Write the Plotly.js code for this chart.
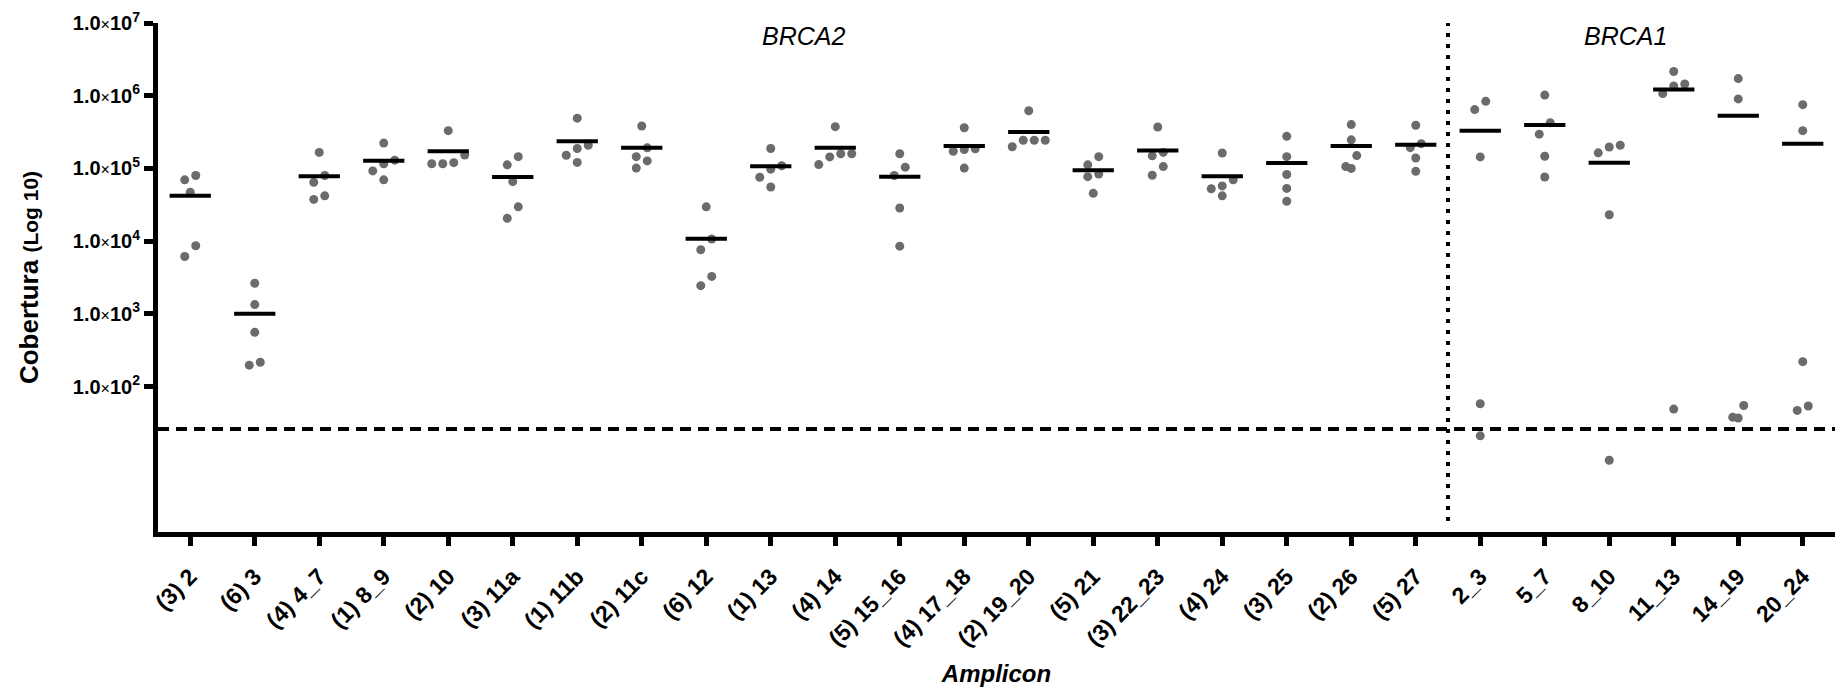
<!DOCTYPE html>
<html>
<head>
<meta charset="utf-8">
<script src="https://cdn.plot.ly/plotly-3.0.1.min.js"></script>
<style>html,body{margin:0;padding:0;background:#fff;}#chart{width:1847px;height:690px;}</style>
</head>
<body>
<div id="chart"></div>
<script>
// ---------- data ----------
const categories = ["(3) 2","(6) 3","(4) 4_7","(1) 8_9","(2) 10","(3) 11a","(1) 11b","(2) 11c","(6) 12","(1) 13",
  "(4) 14","(5) 15_16","(4) 17_18","(2) 19_20","(5) 21","(3) 22_23","(4) 24","(3) 25","(2) 26","(5) 27",
  "2_3","5_7","8_10","11_13","14_19","20_24"];

const coverage = [
  [69700, 79800, 47000, 8630, 6150],
  [2640, 1340, 557, 197, 216],
  [166000, 79800, 64400, 37500, 42000],
  [223000, 130000, 116000, 92500, 69700],
  [331000, 120000, 116000, 116000, 153000],
  [145000, 112000, 65900, 29600, 20600],
  [491000, 208000, 188000, 152000, 121000],
  [383000, 192000, 145000, 127000, 101000],
  [29600, 10700, 7620, 3270, 2440],
  [188000, 109000, 97700, 75500, 55600],
  [375000, 159000, 159000, 144000, 113000],
  [159000, 104000, 79800, 28600, 8530],
  [362000, 182000, 172000, 186000, 101000],
  [622000, 244000, 199000, 244000, 244000],
  [145000, 112000, 83600, 77100, 45400],
  [371000, 166000, 149000, 106000, 80700],
  [163000, 69700, 57500, 52600, 42000],
  [276000, 145000, 82600, 53100, 35400],
  [401000, 247000, 150000, 100000, 106000],
  [392000, 219000, 193000, 139000, 91200],
  [836000, 644000, 144000, 58, 21],
  [1020000, 425000, 296000, 147000, 76200],
  [208000, 164000, 197000, 23100, 9.7],
  [2150000, 1360000, 1450000, 1070000, 49],
  [1720000, 904000, 55, 37, 38],
  [754000, 331000, 220, 47, 54]
];

const means = [42000, 1000, 78000, 128000, 172000, 76200, 236000, 192000, 10800, 107000,
  192000, 77100, 204000, 316000, 94400, 176000, 78000, 119000, 204000, 212000,
  331000, 396000, 120000, 1220000, 531000, 218000];

const threshold = 26;
const geneLabels = ["BRCA2", "BRCA1"];
const geneCenters = [9.5, 22.25];
const geneSplit = 19.5;
const yTickValues = [100, 1000, 10000, 100000, 1000000, 10000000];
const yTickExp = [2, 3, 4, 5, 6, 7];

// ---------- layout geometry ----------
const W = 1847, H = 690;
const M = {l: 158, r: 12, t: 23, b: 158};
const plotW = W - M.l - M.r, plotH = H - M.t - M.b;
const xRange = [-0.5, 25.5], yRange = [0, 7];
const pxPerCat = plotW / (xRange[1] - xRange[0]);
const pxPerDec = plotH / (yRange[1] - yRange[0]);

// simple row-based beeswarm (GraphPad-like spreading of near points)
const rowPx = 12, stepPx = 11;
const px = [], py = [];
coverage.forEach((vals, i) => {
  const sorted = vals.map(v => v).sort((a, b) => b - a);
  let k = 0;
  while (k < sorted.length) {
    const row = [sorted[k]];
    const top = Math.log10(sorted[k]);
    let j = k + 1;
    while (j < sorted.length && (top - Math.log10(sorted[j])) * pxPerDec < rowPx) { row.push(sorted[j]); j++; }
    row.sort((a, b) => a - b);
    row.forEach((v, r) => {
      const off = (r - (row.length - 1) / 2) * stepPx / pxPerCat;
      px.push(i + off); py.push(v);
    });
    k = j;
  }
});

const mx = [], my = [];
means.forEach((m, i) => { mx.push(i - 0.32, i + 0.32, null); my.push(m, m, null); });

const FONT = "Liberation Sans, Arial, Helvetica, sans-serif";

const traces = [
  {x: [xRange[0], xRange[1]], y: [threshold, threshold], mode: 'lines', type: 'scatter',
   line: {color: '#000', width: 4, dash: '11px,7px'}, hoverinfo: 'skip', cliponaxis: false},
  {x: [geneSplit, geneSplit], y: [Math.pow(10, yRange[0] + 0.15), Math.pow(10, yRange[1])], mode: 'lines', type: 'scatter',
   line: {color: '#000', width: 4, dash: '4px,7px'}, hoverinfo: 'skip'},
  {x: px, y: py, mode: 'markers', type: 'scatter',
   marker: {color: '#6b6b6b', size: 9, line: {width: 0}}, hoverinfo: 'skip', cliponaxis: false},
  {x: mx, y: my, mode: 'lines', type: 'scatter', connectgaps: false,
   line: {color: '#000', width: 4}, hoverinfo: 'skip'}
];

const layout = {
  width: W, height: H, margin: M, showlegend: false,
  paper_bgcolor: '#fff', plot_bgcolor: '#fff',
  font: {family: FONT, color: '#000'},
  xaxis: {
    range: xRange, tickmode: 'array', tickvals: categories.map((c, i) => i), ticktext: categories,
    tickangle: -45, ticks: 'outside', ticklen: 9, tickwidth: 5, tickcolor: '#000',
    ticklabelstandoff: 8,
    showline: true, linewidth: 5, linecolor: '#000', showgrid: false, zeroline: false,
    tickfont: {family: FONT, size: 23, color: '#000', weight: 'bold'},
    title: {text: '<b><i>Amplicon</i></b>', font: {family: FONT, size: 24, color: '#000'}, standoff: 16}
  },
  yaxis: {
    type: 'log', range: yRange, tickmode: 'array', tickvals: yTickValues,
    ticktext: yTickExp.map(e => '1.0<span style="font-size:16px;font-weight:normal">×</span>10<sup>' + e + '</sup>'),
    ticks: 'outside', ticklen: 9, tickwidth: 5, tickcolor: '#000',
    showline: true, linewidth: 5, linecolor: '#000', showgrid: false, zeroline: false,
    tickfont: {family: FONT, size: 20, color: '#000', weight: 'bold'},
    title: {text: '<b>Cobertura <span style="font-size:21px">(Log 10)</span></b>', font: {family: FONT, size: 26, color: '#000'}, standoff: 28}
  },
  annotations: geneLabels.map((g, i) => ({
    x: geneCenters[i], xref: 'x', y: 1 - (36 - M.t) / plotH, yref: 'paper', yanchor: 'middle', xanchor: 'center',
    text: '<i>' + g + '</i>', showarrow: false, font: {family: FONT, size: 25, color: '#000'}
  }))
};

Plotly.newPlot('chart', traces, layout, {staticPlot: true, displayModeBar: false});
</script>
</body>
</html>
